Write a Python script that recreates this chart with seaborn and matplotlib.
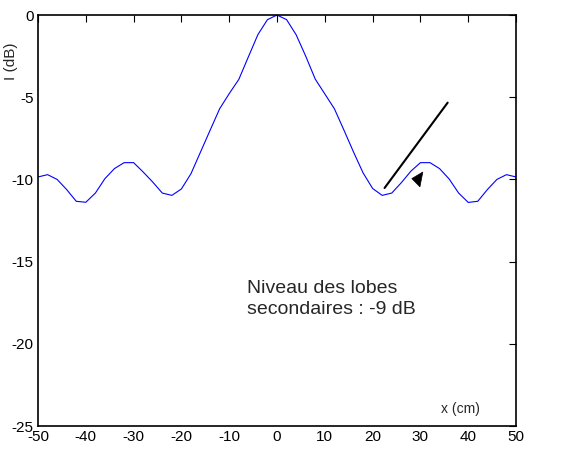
import matplotlib
matplotlib.use("Agg")
import matplotlib.pyplot as plt
import seaborn as sns
import pandas as pd
from matplotlib.patches import Polygon

# ---- data ----
x_cm = [-50, -48, -46, -44, -42, -40, -38, -36, -34, -32, -30, -28, -26, -24, -22,
        -20, -18, -16, -14, -12, -10, -8, -6, -4, -2, 0,
        2, 4, 6, 8, 10, 12, 14, 16, 18, 20, 22, 24, 26, 28, 30,
        32, 34, 36, 38, 40, 42, 44, 46, 48, 50]
intensity_db = [-9.85, -9.71, -10.0, -10.62, -11.33, -11.39, -10.83, -9.95, -9.34, -8.98, -8.98,
                -9.55, -10.16, -10.83, -10.97, -10.58, -9.65, -8.33, -7.01, -5.7, -4.78,
                -3.92, -2.55, -1.19, -0.28, 0.0,
                -0.28, -1.2, -2.5, -3.9, -4.8, -5.7, -7.0, -8.33, -9.6, -10.55,
                -10.97, -10.83, -10.2, -9.5, -8.98, -8.98, -9.34, -9.97, -10.83, -11.4,
                -11.33, -10.62, -10.0, -9.71, -9.85]
x_ticks = [-50, -40, -30, -20, -10, 0, 10, 20, 30, 40, 50]
y_ticks = [-25, -20, -15, -10, -5, 0]

# annotation (arrow drawn as a separate line and head, as in the reference)
arrow_line_x = [22.5, 35.7]
arrow_line_y = [-10.52, -5.33]
arrow_head_x = [30.5, 28.2, 29.9]
arrow_head_y = [-9.55, -9.95, -10.45]
note_text = "Niveau des lobes\nsecondaires : -9 dB"

sns.set_style("white")
plt.rcParams['font.family'] = ['Liberation Sans', 'DejaVu Sans']

fig = plt.figure(figsize=(5.7, 4.5), dpi=100)
ax = fig.add_axes([0.0667, 0.0533, 0.8386, 0.9133])

df = pd.DataFrame({"x": x_cm, "I": intensity_db})
sns.lineplot(data=df, x="x", y="I", ax=ax, color=(0, 0, 1), linewidth=0.8)

ax.plot(arrow_line_x, arrow_line_y, color="black", linewidth=1.5)
ax.add_patch(Polygon(list(zip(arrow_head_x, arrow_head_y)), closed=True,
                     facecolor="black", edgecolor="black", linewidth=0.5))

ax.text(-6.2, -16.1, note_text, fontsize=14, ha="left", va="top",
        linespacing=1.3)
ax.text(34.3, -24.2, "x (cm)", fontsize=10, ha="left", va="baseline")

ax.set_xlim(-50, 50)
ax.set_ylim(-25, 0)
ax.set_xticks(x_ticks)
ax.set_yticks(y_ticks)
ax.set_xticklabels([str(t) for t in x_ticks])
ax.set_yticklabels([str(t) for t in y_ticks])
ax.set_xlabel("")
ax.set_ylabel("I (dB)", fontsize=11)
ax.yaxis.set_label_coords(-0.042, 0.888)

ax.tick_params(direction="in", top=True, right=True, length=5, width=0.8,
               labelsize=11, colors="black", pad=3)
for s in ax.spines.values():
    s.set_color("black")
    s.set_linewidth(1.2)
    s.set_visible(True)

fig.savefig("out.png", dpi=100)
